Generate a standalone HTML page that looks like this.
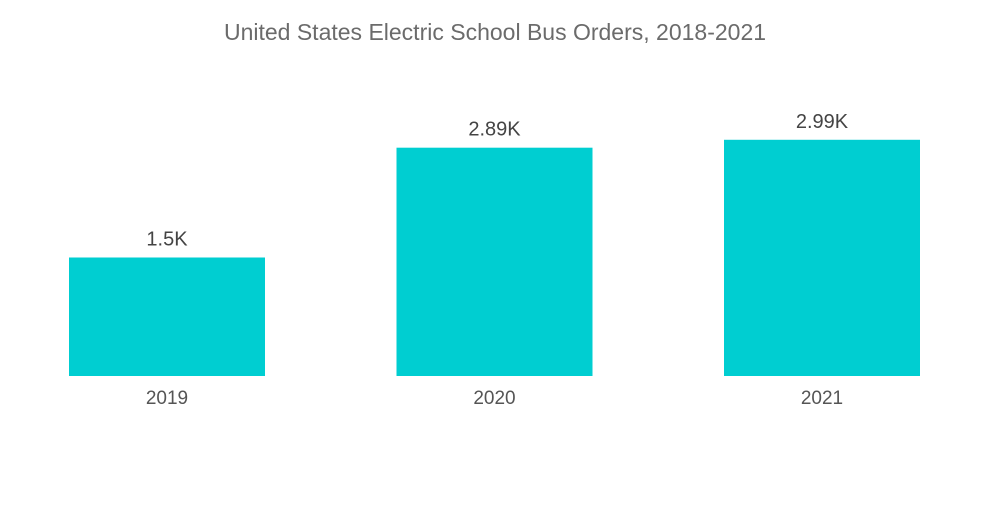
<!DOCTYPE html>
<html>
<head>
<meta charset="utf-8">
<style>
  html,body{margin:0;padding:0;background:#fff;}
  body{width:1000px;height:504px;overflow:hidden;font-family:"Liberation Sans",sans-serif;}
</style>
</head>
<body>
<svg id="chart" width="1000" height="504" viewBox="0 0 1000 504" xmlns="http://www.w3.org/2000/svg">
  <text x="495" y="40" text-anchor="middle" font-family="Liberation Sans, sans-serif" font-size="23" fill="#6b6b6b">United States Electric School Bus Orders, 2018-2021</text>
  <g id="bars"></g>
</svg>
<script>
const categories = ["2019", "2020", "2021"];
const values = [1.5, 2.89, 2.99];
const valueLabels = ["1.5K", "2.89K", "2.99K"];

const baseline = 376;
const pxPerUnit = 79;
const barWidth = 196;
const firstBarX = 69;
const step = 327.5;
function y(v){ return baseline - v * pxPerUnit; }
function x(i){ return firstBarX + i * step; }

const NS = "http://www.w3.org/2000/svg";
const g = document.getElementById("bars");
categories.forEach((c, i) => {
  const top = y(values[i]);
  const r = document.createElementNS(NS, "rect");
  r.setAttribute("x", x(i));
  r.setAttribute("y", top);
  r.setAttribute("width", barWidth);
  r.setAttribute("height", baseline - top);
  r.setAttribute("fill", "#00ced1");
  
  
  g.appendChild(r);

  const t = document.createElementNS(NS, "text");
  t.setAttribute("x", x(i) + barWidth / 2);
  t.setAttribute("y", top - 12);
  t.setAttribute("text-anchor", "middle");
  t.setAttribute("font-size", "20");
  t.setAttribute("fill", "#444");
  t.textContent = valueLabels[i];
  
  
  g.appendChild(t);

  const xl = document.createElementNS(NS, "text");
  xl.setAttribute("x", x(i) + barWidth / 2);
  xl.setAttribute("y", baseline + 28);
  xl.setAttribute("text-anchor", "middle");
  xl.setAttribute("font-size", "19");
  xl.setAttribute("fill", "#555");
  xl.textContent = c;
  
  
  g.appendChild(xl);
});
</script>
</body>
</html>
